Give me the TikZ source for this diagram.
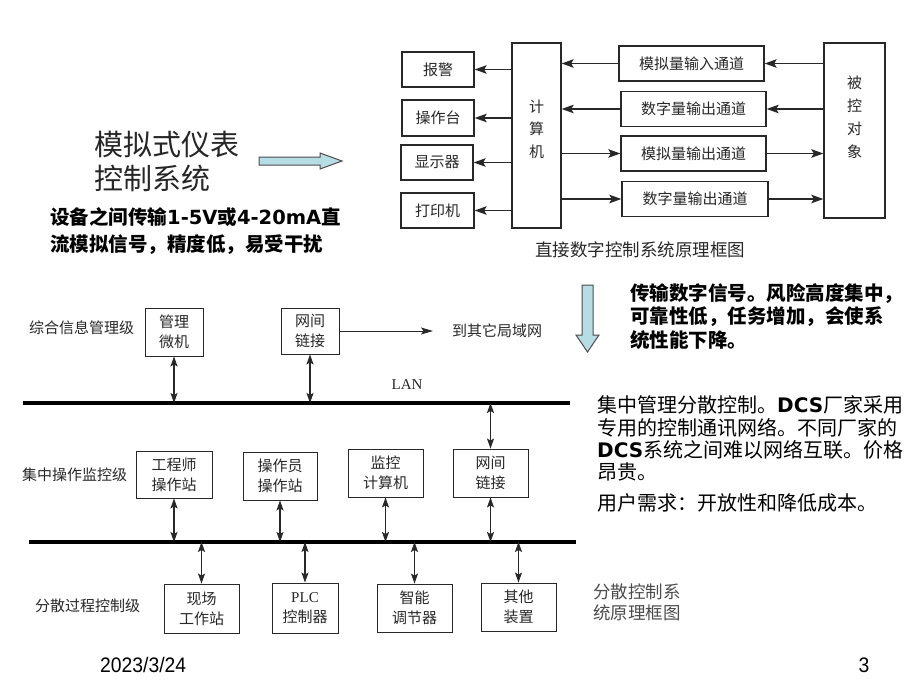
\documentclass[tikz,border=0pt]{standalone}
\usepackage{fontspec}
\setmainfont{Noto Sans CJK SC}
\newfontfamily\latserif{Liberation Serif}
\newfontfamily\latbold{DejaVu Sans}
\newfontfamily\latnarrow{Liberation Sans}
\usetikzlibrary{arrows.meta}
\definecolor{arrowfill}{RGB}{183,221,228}
\definecolor{ink}{RGB}{40,40,40}

\begin{document}
\begin{tikzpicture}[x=1pt, y=-1pt,
    tbox/.style={draw=ink, line width=1.3pt, inner sep=0pt, text=ink, font=\fontsize{15pt}{18pt}\selectfont},
    bbox/.style={draw=ink, line width=0.9pt, inner sep=0pt, align=center, text=ink, font=\fontsize{15pt}{20pt}\selectfont},
    lvl/.style={anchor=west, inner sep=0pt, text=ink, font=\fontsize{15pt}{18pt}\selectfont},
    arr/.style={draw=ink, line width=1.4pt, arrows={-Stealth[length=12pt,width=8.5pt,inset=2.5pt]}},
    arrb/.style={draw=ink, line width=1pt, arrows={-Stealth[length=12pt,width=7pt,inset=2.5pt]}},
    dbl/.style={draw=ink, line width=1.1pt, arrows={Stealth[length=10pt,width=7pt,inset=2pt]-Stealth[length=10pt,width=7pt,inset=2pt]}},
    bus/.style={draw=black, line width=3.2pt},
    blockarr/.style={draw=black!70, line width=1pt, fill=arrowfill},
    note/.style={anchor=west, align=left, inner sep=0pt, font=\fontsize{20pt}{23pt}\selectfont}]
    \fill[white] (0,0) rectangle (920,690);
    \useasboundingbox (0,0) rectangle (920,690);

    \node[tbox, minimum width=72pt, minimum height=35pt] (bj) at (438,69.5) {报警};
    \node[tbox, minimum width=72pt, minimum height=36pt] (czt) at (438,118) {操作台};
    \node[tbox, minimum width=72pt, minimum height=35pt] (xsq) at (437,162.5) {显示器};
    \node[tbox, minimum width=73pt, minimum height=35pt] (dyj) at (437.5,210.5) {打印机};
    \node[tbox, minimum width=49pt, minimum height=185pt, align=center, text depth=14pt, font=\fontsize{15pt}{22.5pt}\selectfont] (jsj) at (536.5,135.5) {计\\算\\机};
    \node[tbox, minimum width=145pt, minimum height=35pt] (mnsr) at (691.5,63.5) {模拟量输入通道};
    \node[tbox, minimum width=145pt, minimum height=35pt] (szsc1) at (693.5,109) {数字量输出通道};
    \node[tbox, minimum width=145pt, minimum height=35pt] (mnsc) at (693.5,153.5) {模拟量输出通道};
    \node[tbox, minimum width=146pt, minimum height=35pt] (szsc2) at (695,199) {数字量输出通道};
    \node[tbox, minimum width=61pt, minimum height=175pt, align=center, text depth=27pt, font=\fontsize{15pt}{23pt}\selectfont] (bkdx) at (854.5,130.5) {被\\控\\对\\象};
    \foreach \n in {bj,czt,xsq,dyj}
        \draw[arr] (jsj.west |- \n.east) -- (\n.east);
    \foreach \n in {mnsr,szsc1} {
        \draw[arr] (bkdx.west |- \n.east) -- (\n.east);
        \draw[arr] (\n.west) -- (jsj.east |- \n.west);
    }
    \foreach \n in {mnsc,szsc2} {
        \draw[arr] (jsj.east |- \n.west) -- (\n.west);
        \draw[arr] (\n.east) -- (bkdx.west |- \n.east);
    }
    \node[text=ink, font=\fontsize{17.5pt}{20pt}\selectfont] (ddccap) at (640,250) {直接数字控制系统原理框图};

    \node[anchor=west, align=left, inner sep=0pt, text=black!85, font=\fontsize{29pt}{34pt}\selectfont] (mnyb) at (94,161) {模拟式仪表\\控制系统};
    \draw[blockarr] (259,157) -- (320,157) -- (320,153) -- (342,161) -- (320,169) -- (320,165) -- (259,165) -- cycle;
    \node[note, font=\fontsize{19.5pt}{27pt}\selectfont\bfseries] (mnqd) at (50,231.5) {设备之间传输{\latbold 1-5V}或{\latbold 4-20mA}直\\流模拟信号，精度低，易受干扰};

    \draw[blockarr] (582,285) -- (593,285) -- (593,335) -- (599,335) -- (587.5,352) -- (576,335) -- (582,335) -- cycle;
    \node[note, font=\fontsize{19.5pt}{23.5pt}\selectfont\bfseries] (ddcqd) at (630,316.5) {传输数字信号。风险高度集中，\\可靠性低，任务增加，会使系\\统性能下降。};
    \node[note, font=\fontsize{20pt}{22.3pt}\selectfont] (dcsqd) at (597,438.5) {集中管理分散控制。{\latbold\bfseries DCS}厂家采用\\专用的控制通讯网络。不同厂家的\\{\latbold\bfseries DCS}系统之间难以网络互联。价格\\昂贵。};
    \node[note] (xq) at (597,503) {用户需求：开放性和降低成本。};

    \node[lvl] (zhxx) at (29,328) {综合信息管理级};
    \node[bbox, minimum width=58pt, minimum height=48pt] (glwj) at (174,332) {管理\\微机};
    \node[bbox, minimum width=58pt, minimum height=46pt] (wjlj) at (310,331) {网间\\链接};
    \node[lvl] (qtjy) at (452,331) {到其它局域网};
    \draw[arrb, shorten >=19pt] (wjlj.east) -- (qtjy.west);
    \coordinate (lanl) at (23,403);
    \coordinate (lanr) at (570,403);
    \draw[bus] (lanl) -- (lanr);
    \node[text=ink, font=\latserif\fontsize{15pt}{18pt}\selectfont] (lan) at (407,385) {LAN};
    \draw[dbl] (glwj.south) -- (glwj.south |- lanl);
    \draw[dbl] (wjlj.south) -- (wjlj.south |- lanl);

    \node[lvl] (jzcz) at (22,475) {集中操作监控级};
    \node[bbox, minimum width=76pt, minimum height=47pt] (gcs) at (174,474.5) {工程师\\操作站};
    \node[bbox, minimum width=74pt, minimum height=48pt] (czy) at (280,476) {操作员\\操作站};
    \node[bbox, minimum width=75pt, minimum height=48pt] (jkjs) at (385.5,473) {监控\\计算机};
    \node[bbox, minimum width=75pt, minimum height=48pt] (wjlj2) at (490.5,473) {网间\\链接};
    \coordinate (bl) at (29,542);
    \coordinate (br) at (576,542);
    \draw[bus] (bl) -- (br);
    \foreach \n in {gcs,czy,jkjs,wjlj2}
        \draw[dbl] (\n.south) -- (\n.south |- bl);
    \draw[dbl] (wjlj2.north) -- (wjlj2.north |- lanl);

    \node[lvl] (fsgc) at (35,606) {分散过程控制级};
    \node[bbox, minimum width=75pt, minimum height=49pt] (xcgz) at (201.5,608.5) {现场\\工作站};
    \node[bbox, minimum width=66pt, minimum height=50pt] (plc) at (305,608) {{\latserif PLC}\\控制器};
    \node[bbox, minimum width=75pt, minimum height=48pt] (zntj) at (414.5,608) {智能\\调节器};
    \node[bbox, minimum width=75pt, minimum height=48pt] (qtzz) at (518.5,607) {其他\\装置};
    \foreach \n in {xcgz,plc,zntj,qtzz}
        \draw[dbl] (\n.north) -- (\n.north |- bl);
    \node[anchor=west, align=left, inner sep=0pt, text=black!70, font=\fontsize{17.5pt}{21pt}\selectfont] (dcscap) at (593,602.5) {分散控制系\\统原理框图};

    \node[anchor=west, inner sep=0pt, font=\latnarrow\fontsize{21pt}{24pt}\selectfont] (date) at (100,665) {\scalebox{0.92}[1]{2023/3/24}};
    \node[inner sep=0pt, font=\latnarrow\fontsize{21pt}{24pt}\selectfont] (pg) at (864,665) {\scalebox{0.92}[1]{3}};
\end{tikzpicture}
\end{document}
